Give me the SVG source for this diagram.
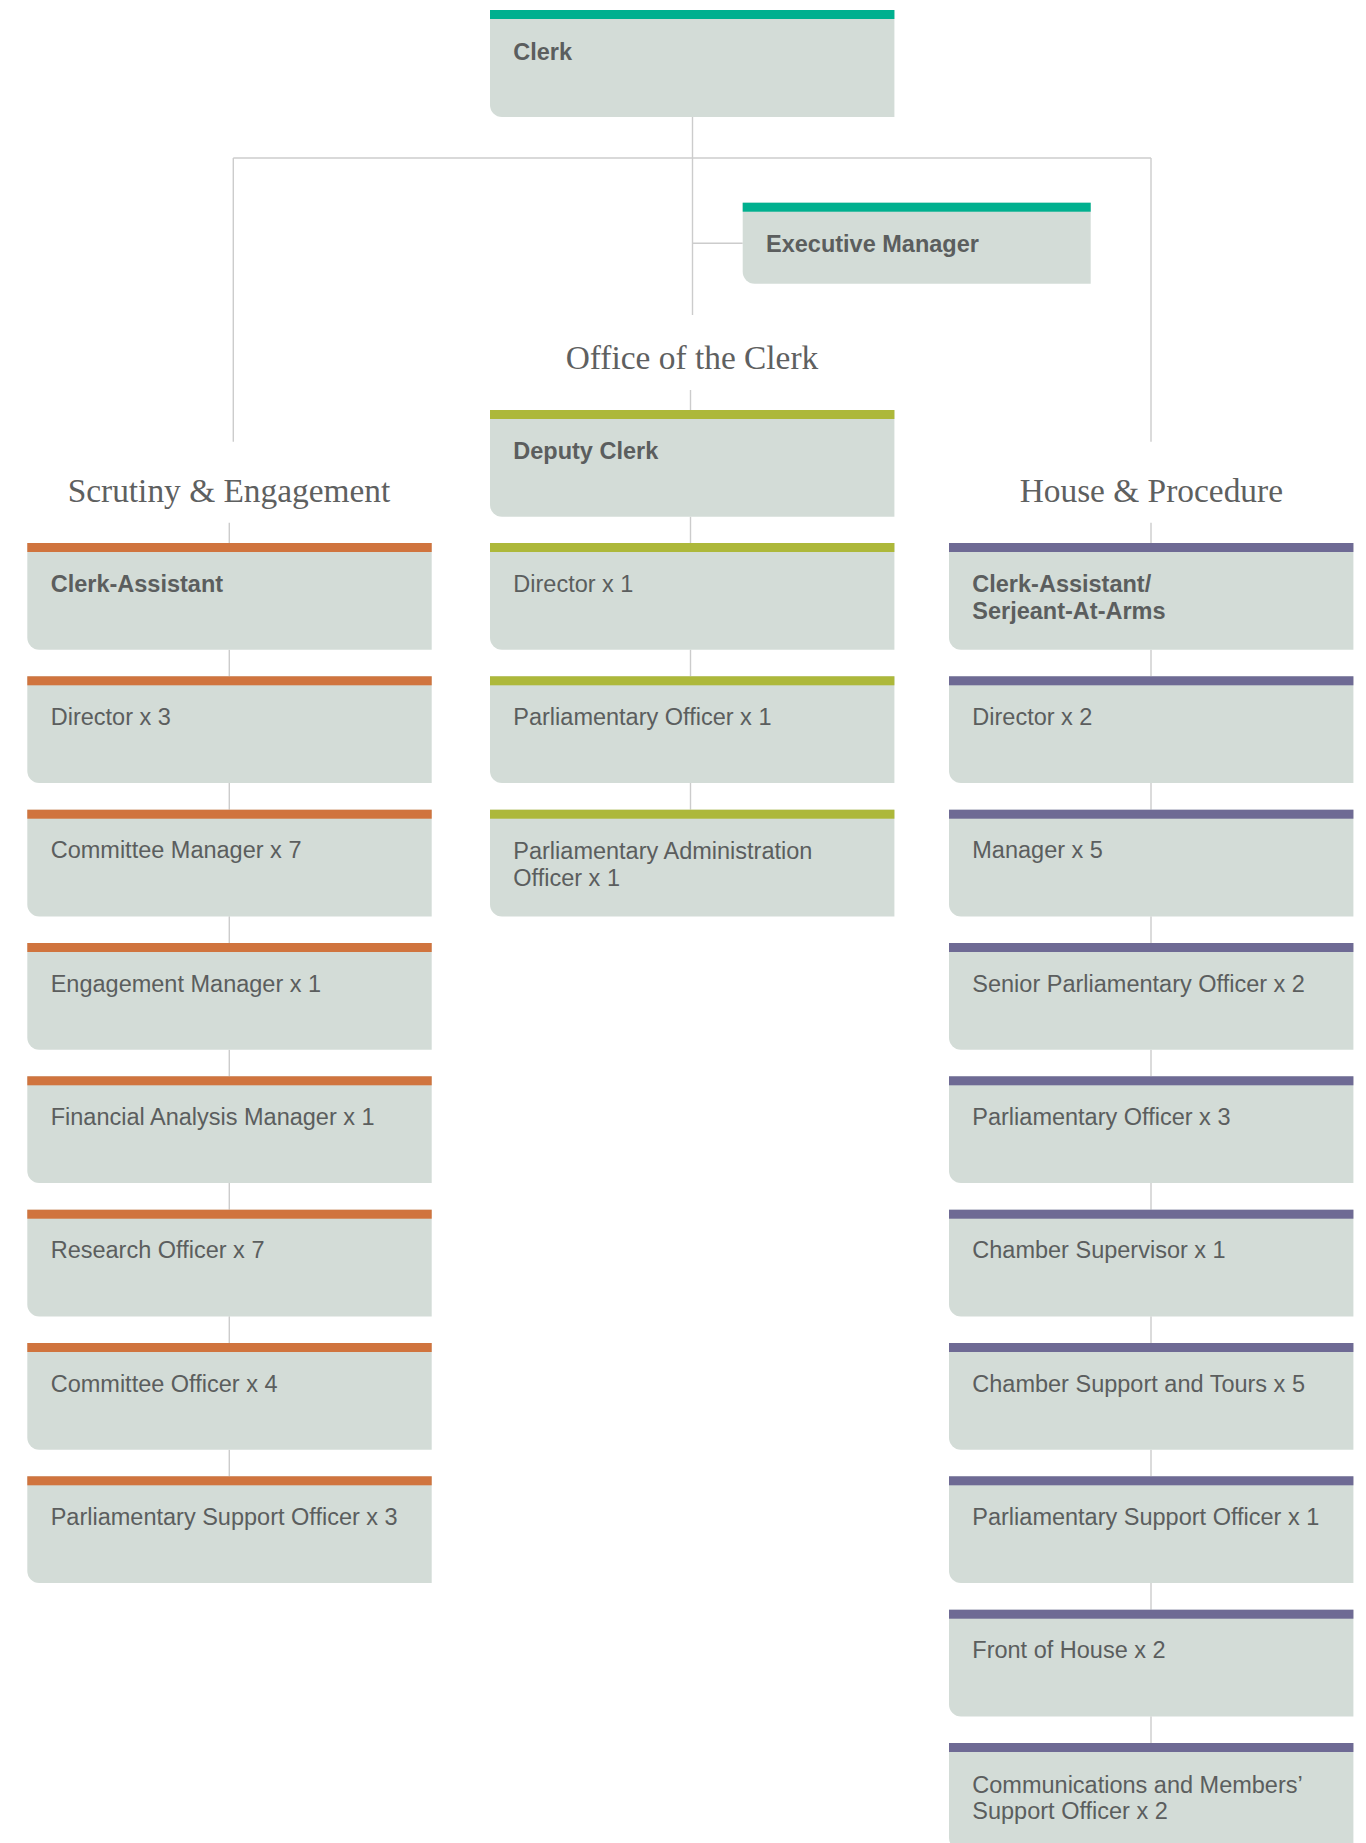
<svg xmlns="http://www.w3.org/2000/svg" xmlns:xlink="http://www.w3.org/1999/xlink" width="1366" height="1843" viewBox="0 0 1366 1843">
<style>
.bg{fill:#ffffff}
.box{fill:#d3dcd7}
.teal{fill:#00b08f}
.olive{fill:#adb83a}
.orange{fill:#d0743e}
.purple{fill:#6e6a94}
.t{font-family:"Liberation Sans",Arial,sans-serif;font-size:23.5px;fill:#5b5e5e}
.b{font-weight:bold}
.lab{font-family:"Liberation Serif","Times New Roman",serif;font-size:33.4px;fill:#5e6060;text-anchor:middle}
.con line{stroke:#cccccc;stroke-width:1.4;fill:none}
</style>
<defs>
<path id="box" d="M0,0 H404.4 V106.7 H12 A12 12 0 0 1 0,94.7 Z"/>
<path id="boxC" d="M0,0 H404.4 V107 H12 A12 12 0 0 1 0,95 Z"/>
<path id="boxE" d="M0,0 H348 V81 H12 A12 12 0 0 1 0,69 Z"/>
</defs>
<rect class="bg" x="0" y="0" width="1366" height="1843"/>

<g id="connectors" class="con">
<line x1="692.5" y1="117" x2="692.5" y2="315"/>
<line x1="233.3" y1="158" x2="1151" y2="158"/>
<line x1="233.3" y1="158" x2="233.3" y2="441.7"/>
<line x1="1151" y1="158" x2="1151" y2="441.7"/>
<line x1="692.5" y1="243.3" x2="742.7" y2="243.3"/>
<line x1="690.5" y1="390" x2="690.5" y2="410"/>
<line x1="690.5" y1="516.7" x2="690.5" y2="543"/>
<line x1="690.5" y1="649.7" x2="690.5" y2="676.3"/>
<line x1="690.5" y1="783" x2="690.5" y2="809.7"/>
<line x1="229.3" y1="522.7" x2="229.3" y2="543"/>
<line x1="229.3" y1="649.7" x2="229.3" y2="676.3"/>
<line x1="229.3" y1="783" x2="229.3" y2="809.7"/>
<line x1="229.3" y1="916.3" x2="229.3" y2="943"/>
<line x1="229.3" y1="1049.7" x2="229.3" y2="1076.3"/>
<line x1="229.3" y1="1183" x2="229.3" y2="1209.7"/>
<line x1="229.3" y1="1316.3" x2="229.3" y2="1343"/>
<line x1="229.3" y1="1449.7" x2="229.3" y2="1476.3"/>
<line x1="1151" y1="522.7" x2="1151" y2="543"/>
<line x1="1151" y1="649.7" x2="1151" y2="676.3"/>
<line x1="1151" y1="783" x2="1151" y2="809.7"/>
<line x1="1151" y1="916.3" x2="1151" y2="943"/>
<line x1="1151" y1="1049.7" x2="1151" y2="1076.3"/>
<line x1="1151" y1="1183" x2="1151" y2="1209.7"/>
<line x1="1151" y1="1316.3" x2="1151" y2="1343"/>
<line x1="1151" y1="1449.7" x2="1151" y2="1476.3"/>
<line x1="1151" y1="1583" x2="1151" y2="1609.7"/>
<line x1="1151" y1="1716.3" x2="1151" y2="1743"/>
</g>

<g id="labels">
<text class="lab" x="692" y="369">Office of the Clerk</text>
<text class="lab" x="229" y="501.7">Scrutiny &amp; Engagement</text>
<text class="lab" x="1151.3" y="501.7">House &amp; Procedure</text>
</g>

<g id="clerk" transform="translate(490,10)"><use href="#boxC" class="box"/><rect class="teal" width="404.4" height="9"/><text class="t b" x="23.3" y="50">Clerk</text></g>
<g id="executive-manager" transform="translate(742.7,202.7)"><use href="#boxE" class="box"/><rect class="teal" width="348" height="9"/><text class="t b" x="23.3" y="49">Executive Manager</text></g>

<g id="deputy-clerk" transform="translate(490,410)"><use href="#box" class="box"/><rect class="olive" width="404.4" height="9"/><text class="t b" x="23.3" y="49">Deputy Clerk</text></g>
<g id="oc-director" transform="translate(490,543)"><use href="#box" class="box"/><rect class="olive" width="404.4" height="9"/><text class="t" x="23.3" y="49">Director x 1</text></g>
<g id="oc-parl-officer" transform="translate(490,676.3)"><use href="#box" class="box"/><rect class="olive" width="404.4" height="9"/><text class="t" x="23.3" y="49">Parliamentary Officer x 1</text></g>
<g id="oc-parl-admin" transform="translate(490,809.7)"><use href="#box" class="box"/><rect class="olive" width="404.4" height="9"/><text class="t" x="23.3" y="49">Parliamentary Administration</text><text class="t" x="23.3" y="76.7">Officer x 1</text></g>

<g id="se-clerk-assistant" transform="translate(27.3,543)"><use href="#box" class="box"/><rect class="orange" width="404.4" height="9"/><text class="t b" x="23.4" y="48.7">Clerk-Assistant</text></g>
<g id="se-director" transform="translate(27.3,676.3)"><use href="#box" class="box"/><rect class="orange" width="404.4" height="9"/><text class="t" x="23.4" y="48.7">Director x 3</text></g>
<g id="se-committee-manager" transform="translate(27.3,809.7)"><use href="#box" class="box"/><rect class="orange" width="404.4" height="9"/><text class="t" x="23.4" y="48.7">Committee Manager x 7</text></g>
<g id="se-engagement-manager" transform="translate(27.3,943)"><use href="#box" class="box"/><rect class="orange" width="404.4" height="9"/><text class="t" x="23.4" y="48.7">Engagement Manager x 1</text></g>
<g id="se-financial-analysis" transform="translate(27.3,1076.3)"><use href="#box" class="box"/><rect class="orange" width="404.4" height="9"/><text class="t" x="23.4" y="48.7">Financial Analysis Manager x 1</text></g>
<g id="se-research-officer" transform="translate(27.3,1209.7)"><use href="#box" class="box"/><rect class="orange" width="404.4" height="9"/><text class="t" x="23.4" y="48.7">Research Officer x 7</text></g>
<g id="se-committee-officer" transform="translate(27.3,1343)"><use href="#box" class="box"/><rect class="orange" width="404.4" height="9"/><text class="t" x="23.4" y="48.7">Committee Officer x 4</text></g>
<g id="se-parl-support" transform="translate(27.3,1476.3)"><use href="#box" class="box"/><rect class="orange" width="404.4" height="9"/><text class="t" x="23.4" y="48.7">Parliamentary Support Officer x 3</text></g>

<g id="hp-clerk-assistant" transform="translate(949,543)"><use href="#box" class="box"/><rect class="purple" width="404.4" height="9"/><text class="t b" x="23.3" y="48.7">Clerk-Assistant/</text><text class="t b" x="23.3" y="76.3">Serjeant-At-Arms</text></g>
<g id="hp-director" transform="translate(949,676.3)"><use href="#box" class="box"/><rect class="purple" width="404.4" height="9"/><text class="t" x="23.3" y="48.7">Director x 2</text></g>
<g id="hp-manager" transform="translate(949,809.7)"><use href="#box" class="box"/><rect class="purple" width="404.4" height="9"/><text class="t" x="23.3" y="48.7">Manager x 5</text></g>
<g id="hp-senior-parl-officer" transform="translate(949,943)"><use href="#box" class="box"/><rect class="purple" width="404.4" height="9"/><text class="t" x="23.3" y="48.7">Senior Parliamentary Officer x 2</text></g>
<g id="hp-parl-officer" transform="translate(949,1076.3)"><use href="#box" class="box"/><rect class="purple" width="404.4" height="9"/><text class="t" x="23.3" y="48.7">Parliamentary Officer x 3</text></g>
<g id="hp-chamber-supervisor" transform="translate(949,1209.7)"><use href="#box" class="box"/><rect class="purple" width="404.4" height="9"/><text class="t" x="23.3" y="48.7">Chamber Supervisor x 1</text></g>
<g id="hp-chamber-support" transform="translate(949,1343)"><use href="#box" class="box"/><rect class="purple" width="404.4" height="9"/><text class="t" x="23.3" y="48.7">Chamber Support and Tours x 5</text></g>
<g id="hp-parl-support" transform="translate(949,1476.3)"><use href="#box" class="box"/><rect class="purple" width="404.4" height="9"/><text class="t" x="23.3" y="48.7">Parliamentary Support Officer x 1</text></g>
<g id="hp-front-of-house" transform="translate(949,1609.7)"><use href="#box" class="box"/><rect class="purple" width="404.4" height="9"/><text class="t" x="23.3" y="48.7">Front of House x 2</text></g>
<g id="hp-communications" transform="translate(949,1743)"><use href="#box" class="box"/><rect class="purple" width="404.4" height="9"/><text class="t" x="23.3" y="49.7">Communications and Members’</text><text class="t" x="23.3" y="76.3">Support Officer x 2</text></g>
</svg>
